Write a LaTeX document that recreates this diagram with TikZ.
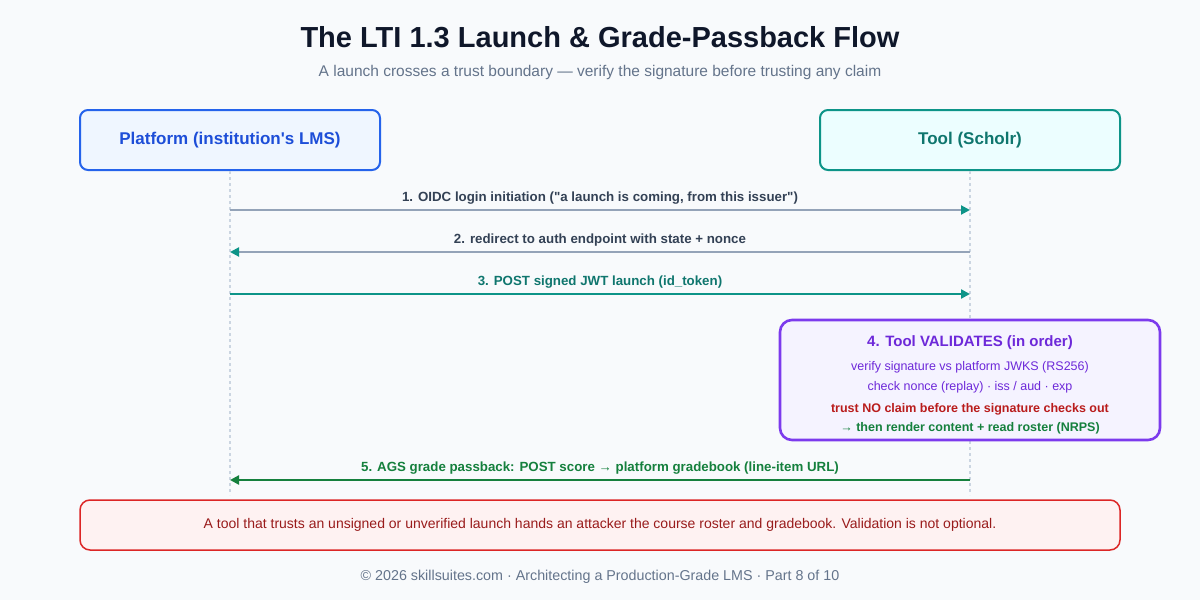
\documentclass[tikz,border=0pt]{standalone}
\usepackage{fontspec}
\setmainfont{Liberation Sans}[Ligatures=TeXOff]
\usetikzlibrary{arrows.meta}
\definecolor{bg}{HTML}{F8FAFC}
\definecolor{ink}{HTML}{0F172A}
\definecolor{sub}{HTML}{64748B}
\definecolor{dark}{HTML}{334155}
\definecolor{pblue}{HTML}{2563EB}
\definecolor{pfill}{HTML}{EFF6FF}
\definecolor{pbt}{HTML}{1D4ED8}
\definecolor{teal}{HTML}{0D9488}
\definecolor{tfill}{HTML}{ECFEFF}
\definecolor{ttext}{HTML}{0F766E}
\definecolor{vio}{HTML}{7C3AED}
\definecolor{vfill}{HTML}{F5F3FF}
\definecolor{vtext}{HTML}{6D28D9}
\definecolor{red}{HTML}{DC2626}
\definecolor{rfill}{HTML}{FEF2F2}
\definecolor{rtext}{HTML}{991B1B}
\definecolor{darkred}{HTML}{B91C1C}
\definecolor{grn}{HTML}{15803D}
\definecolor{gline}{HTML}{94A3B8}
\definecolor{life}{HTML}{CBD5E1}
\tikzset{
 actor/.style={draw=#1,line width=2pt,rounded corners=8pt,minimum width=300pt,minimum height=60pt,font=\fontsize{17}{20}\selectfont\bfseries},
 lbl/.style={font=\fontsize{13.3}{15}\selectfont\bfseries},
 tip/.style={-{Triangle[length=9pt,width=9pt,color=teal]}},
}
\begin{document}
\begin{tikzpicture}[x=1pt,y=-1pt,line cap=butt]
\fill[bg] (0,0) rectangle (1200,600);
\useasboundingbox (0,0) rectangle (1200,600);
\node[font=\fontsize{29}{32}\selectfont\bfseries,text=ink] (title) at (600,37) {The LTI 1.3 Launch \& Grade-Passback Flow};
\node[font=\fontsize{15.5}{18}\selectfont,text=sub] (subt) at (600,72) {A launch crosses a trust boundary — verify the signature before trusting any claim};
\node[actor=pblue,fill=pfill,text=pbt] (P) at (230,140) {Platform (institution's LMS)};
\node[actor=teal,fill=tfill,text=ttext] (T) at (970,140) {Tool (Scholr)};
\coordinate (pb) at (230,495); \coordinate (tb) at (970,495);
\draw[life,dashed,line width=1.5pt] (P.south) -- (pb);
\draw[life,dashed,line width=1.5pt] (T.south) -- (tb);
\coordinate (p1) at (230,210); \coordinate (t1) at (970,210);
\draw[gline,line width=2pt,tip] (p1) -- (t1) node[midway,above=1pt,lbl,text=dark]{1. OIDC login initiation ("a launch is coming, from this issuer")};
\coordinate (p2) at (230,252); \coordinate (t2) at (970,252);
\draw[gline,line width=2pt,tip] (t2) -- (p2) node[midway,above=1pt,lbl,text=dark]{2. redirect to auth endpoint with state + nonce};
\coordinate (p3) at (230,294); \coordinate (t3) at (970,294);
\draw[teal,line width=2.6pt,tip] (p3) -- (t3) node[midway,above=1pt,lbl,text=ttext]{3. POST signed JWT launch (id\_token)};
\node[draw=vio,fill=vfill,line width=2.6pt,rounded corners=12pt,minimum width=380pt,minimum height=120pt] (V) at (970,380) {};
\node[font=\fontsize{15}{18}\selectfont\bfseries,text=vtext] (v1) at (970,343) {4. Tool VALIDATES (in order)};
\node[font=\fontsize{12.5}{15}\selectfont,text=vtext] (v2) at (970,367) {verify signature vs platform JWKS (RS256)};
\node[font=\fontsize{12.5}{15}\selectfont,text=vtext] (v3) at (970,387) {check nonce (replay) · iss / aud · exp};
\node[font=\fontsize{12.5}{15}\selectfont\bfseries,text=darkred] (v4) at (970,409) {trust NO claim before the signature checks out};
\node[font=\fontsize{12.5}{15}\selectfont\bfseries,text=grn] (v5) at (970,428) {→ then render content + read roster (NRPS)};
\coordinate (p5) at (230,480); \coordinate (t5) at (970,480);
\draw[grn,line width=2.6pt,-{Triangle[length=9pt,width=9pt]}] (t5) -- (p5) node[midway,above=1.5pt,lbl,text=grn]{5. AGS grade passback: POST score → platform gradebook (line-item URL)};
\node[draw=red,fill=rfill,line width=1.5pt,rounded corners=10pt,minimum width=1040pt,minimum height=50pt,font=\fontsize{14}{16}\selectfont,text=rtext] (W) at (600,525) {A tool that trusts an unsigned or unverified launch hands an attacker the course roster and gradebook. Validation is not optional.};
\node[font=\fontsize{14.3}{16}\selectfont,text=sub] (F) at (600,577) {© 2026 skillsuites.com · Architecting a Production-Grade LMS · Part 8 of 10};
\end{tikzpicture}
\end{document}
